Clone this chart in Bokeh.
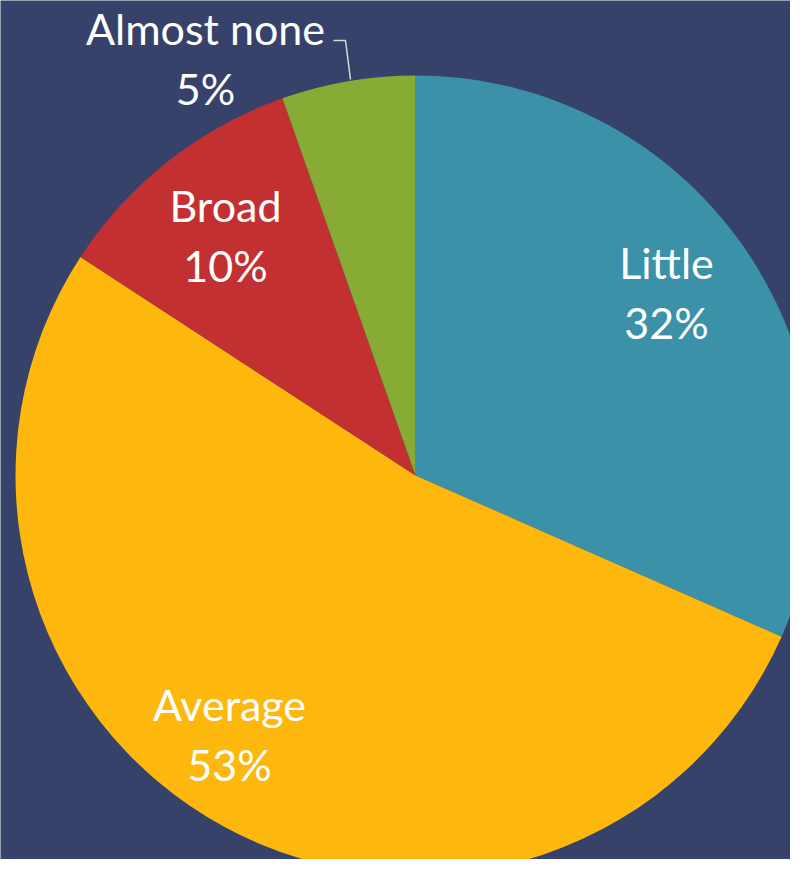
import math
from bokeh.plotting import figure
from bokeh.models import Range1d, ColumnDataSource
from bokeh.core.properties import value
from bokeh.embed import file_html
from bokeh.resources import INLINE

# data (slice shares as measured from the slice angles; labels as printed)
categories = ["Little", "Average", "Broad", "Almost none"]
shares = [31.6, 52.6, 10.4, 5.4]
pct_labels = ["32%", "53%", "10%", "5%"]
colors = ["#3A91A8", "#FDB70D", "#C33031", "#87AB34"]

BG = "#36426A"
W, H = 790, 859

def py(y):
    # convert picture pixel y (downward) to data y (upward)
    return H - y

p = figure(width=W, height=H, x_range=Range1d(0, W), y_range=Range1d(0, H),
           output_backend="svg", toolbar_location=None, min_border=0,
           background_fill_color=BG, border_fill_color=BG, outline_line_color=None)
p.axis.visible = False
p.grid.visible = False

cx, cy, R = 415, py(475), 400
total = sum(shares)
starts, ends = [], []
a = math.pi / 2
for s in shares:
    starts.append(a)
    a = a - s / total * 2 * math.pi
    ends.append(a)

src = ColumnDataSource(dict(cat=categories, share=shares, color=colors, start=starts, end=ends))
p.wedge(x=cx, y=cy, radius=R, start_angle="start", end_angle="end", direction="clock",
        fill_color="color", line_color=None, source=src)

# labels
label_pos = {
    "Little": (666, 262),
    "Average": (229, 704),
    "Broad": (225, 205),
    "Almost none": (205, 28),
}
lx, ly, lt = [], [], []
for c, pl in zip(categories, pct_labels):
    x, y = label_pos[c]
    lx += [x, x]
    ly += [py(y), py(y + 60)]
    lt += [c, pl]
p.text(x=lx, y=ly, text=lt, text_align="center", text_baseline="middle",
       text_color="white", text_font=value("Lato"), text_font_size="43px")

# leader line for Almost none
p.line(x=[333, 345, 350], y=[py(40), py(40), py(79)], line_color="#D9D9D9", line_width=1.5)

open("out.html", "w").write(file_html(p, INLINE))
